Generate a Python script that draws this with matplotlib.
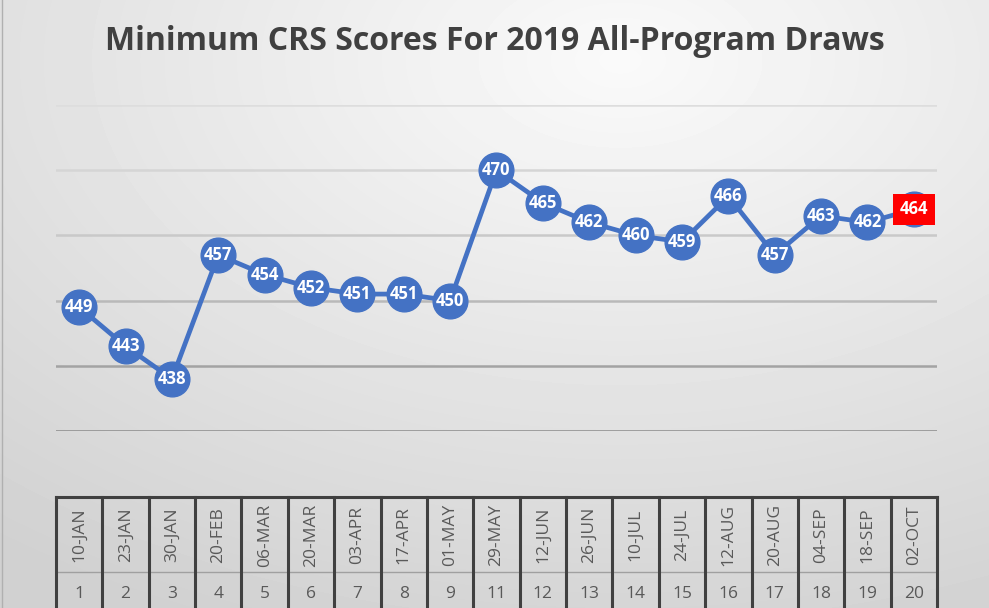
import numpy as np
import matplotlib.pyplot as plt

dates = ['10-JAN', '23-JAN', '30-JAN', '20-FEB', '06-MAR', '20-MAR', '03-APR',
         '17-APR', '01-MAY', '29-MAY', '12-JUN', '26-JUN', '10-JUL', '24-JUL',
         '12-AUG', '20-AUG', '04-SEP', '18-SEP', '02-OCT']
draw_no = [1, 2, 3, 4, 5, 6, 7, 8, 9, 11, 12, 13, 14, 15, 16, 17, 18, 19, 20]
scores = [449, 443, 438, 457, 454, 452, 451, 451, 450, 470,
          465, 462, 460, 459, 466, 457, 463, 462, 464]
y_ticks = [430, 440, 450, 460, 470, 480]

plt.rcParams['font.family'] = ['Open Sans', 'DejaVu Sans']

W, H = 989, 608
fig = plt.figure(figsize=(W / 100, H / 100), dpi=100)

# background gradient
bg = fig.add_axes([0, 0, 1, 1])
yy, xx = np.mgrid[0:H, 0:W]
d = np.sqrt(((xx - 620) / W) ** 2 + ((yy - 60) / H) ** 2)
shade = 0.98 - 0.16 * np.clip(d / 1.0, 0, 1)
bg.imshow(shade, cmap='gray', vmin=0, vmax=1, extent=[0, W, H, 0], aspect='auto')
bg.plot([2, 2], [0, H], color='#b0b0b0', lw=1)
bg.set_xlim(0, W)
bg.set_ylim(H, 0)
bg.axis('off')

n = len(scores)
x = np.arange(n)

# main plot
left, right = 56, 937
ax = fig.add_axes([left / W, (H - 431) / H, (right - left) / W, (431 - 105) / H])
ax.patch.set_alpha(0)
ax.set_xlim(-0.5, n - 0.5)
ax.set_ylim(430, 480)
grid_cols = ['#8a8a8a', '#a3a3a3', '#b9b9b9', '#c9c9c9', '#d5d5d5', '#dddddd']
for v, c in zip(y_ticks, grid_cols):
    ax.axhline(v, color=c, lw=1.8, zorder=1)
ax.plot(x, scores, color='#4472C4', lw=3.4, marker='o', markersize=25,
        markerfacecolor='#4472C4', markeredgecolor='#4472C4', zorder=3, clip_on=False)
for i, (xi, s) in enumerate(zip(x, scores)):
    if i == n - 1:
        ax.text(xi, s, str(s), color='white', fontsize=12, fontweight='bold',
                ha='center', va='center', zorder=5,
                bbox=dict(boxstyle='square,pad=0.4', fc='#FF0000', ec='none'))
    else:
        ax.text(xi, s, str(s), color='white', fontsize=12, fontweight='bold',
                ha='center', va='center', zorder=4)
for sp in ax.spines.values():
    sp.set_visible(False)
ax.set_xticks([])
ax.set_yticks([])

# category table below
tb = fig.add_axes([left / W, 0, (right - left) / W, (H - 496) / H])
tb.patch.set_alpha(0)
tb.set_xlim(-0.5, n - 0.5)
tb.set_ylim(H, 496)
tb.axis('off')
tb.plot([-0.5, n - 0.5], [497, 497], color='#404040', lw=2.2, clip_on=False)
tb.plot([-0.5, n - 0.5], [572, 572], color='#a0a0a0', lw=1, clip_on=False)
for b in np.arange(n + 1) - 0.5:
    tb.plot([b, b], [497, H], color='#404040', lw=2.2, clip_on=False)
for xi, dt, num in zip(x, dates, draw_no):
    tb.text(xi, 535, dt, rotation=90, ha='center', va='center',
            fontsize=12.5, color='#595959')
    tb.text(xi, 594, str(num), ha='center', va='center', fontsize=12.5, color='#595959')

fig.text(0.5, 1 - 42 / H, 'Minimum CRS Scores For 2019 All-Program Draws',
         ha='center', va='center', fontsize=23, fontweight='bold', color='#404040')

fig.savefig('out.png', dpi=100)
